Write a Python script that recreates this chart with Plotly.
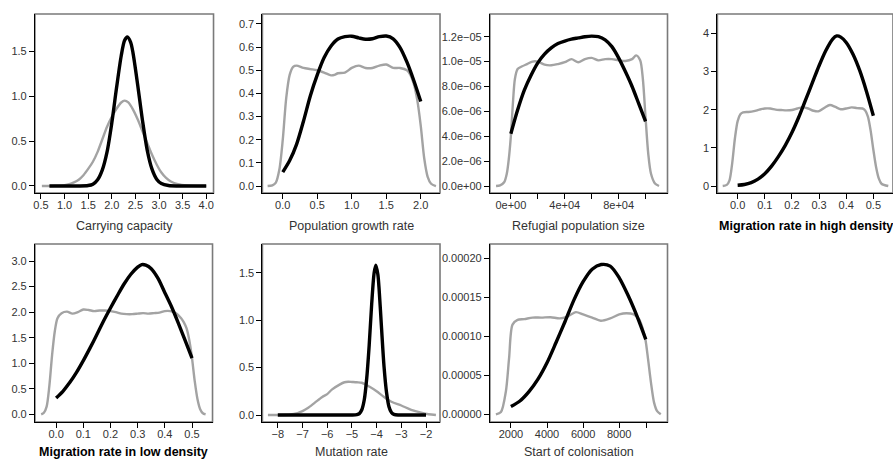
import plotly.graph_objects as go

# ---- Carrying capacity ----
cc_prior_x = [0.52, 0.8, 1.0, 1.1, 1.2, 1.3, 1.4, 1.5, 1.6, 1.7, 1.8, 1.9, 2.0, 2.1, 2.2, 2.27,
              2.35, 2.45, 2.55, 2.65, 2.75, 2.85, 2.95, 3.05, 3.15, 3.25, 3.4, 3.6, 3.8, 4.0]
cc_prior_y = [0.0, 0.003, 0.01, 0.02, 0.04, 0.07, 0.12, 0.19, 0.27, 0.38, 0.52, 0.66, 0.77, 0.86,
              0.93, 0.95, 0.93, 0.85, 0.74, 0.61, 0.48, 0.35, 0.24, 0.15, 0.09, 0.05, 0.02, 0.005, 0.0, 0.0]
cc_post_x = [0.68, 1.0, 1.3, 1.5, 1.6, 1.7, 1.8, 1.9, 2.0, 2.1, 2.2, 2.27, 2.33, 2.4, 2.45, 2.55,
             2.65, 2.75, 2.85, 2.95, 3.05, 3.2, 3.4, 3.7, 4.0]
cc_post_y = [0.0, 0.0, 0.0, 0.005, 0.02, 0.07, 0.18, 0.38, 0.70, 1.09, 1.45, 1.62, 1.66, 1.60, 1.48,
             1.12, 0.73, 0.40, 0.19, 0.076, 0.027, 0.005, 0.0, 0.0, 0.0]

# ---- Population growth rate ----
pg_prior_x = [-0.22, -0.15, -0.1, -0.05, 0.0, 0.05, 0.1, 0.15, 0.2, 0.3, 0.4, 0.5, 0.6, 0.7, 0.75,
              0.8, 0.9, 1.0, 1.1, 1.2, 1.3, 1.4, 1.5, 1.6, 1.7, 1.8, 1.85, 1.9, 1.95, 2.0, 2.05,
              2.1, 2.15, 2.22]
pg_prior_y = [0.0, 0.003, 0.015, 0.07, 0.2, 0.38, 0.48, 0.515, 0.52, 0.51, 0.505, 0.50, 0.49, 0.478,
              0.48, 0.487, 0.49, 0.51, 0.52, 0.51, 0.51, 0.52, 0.525, 0.51, 0.51, 0.50, 0.48, 0.44,
              0.37, 0.26, 0.12, 0.04, 0.01, 0.0]
pg_post_x = [0.0, 0.1, 0.2, 0.3, 0.4, 0.5, 0.6, 0.7, 0.8, 0.9, 1.0, 1.1, 1.2, 1.3, 1.4, 1.5, 1.6,
             1.7, 1.8, 1.9, 2.0]
pg_post_y = [0.06, 0.11, 0.18, 0.28, 0.39, 0.48, 0.555, 0.605, 0.635, 0.645, 0.647, 0.64, 0.634,
             0.636, 0.645, 0.648, 0.636, 0.598, 0.535, 0.455, 0.365]

# ---- Refugial population size ----
rp_prior_x = [-11000, -8000, -5000, -3000, -1500, 0, 1500, 3000, 5000, 8000, 12000, 16000, 20000,
              25000, 30000, 35000, 40000, 45000, 50000, 55000, 60000, 65000, 70000, 75000, 80000,
              85000, 90000, 93000, 96000, 98000, 100000, 102000, 104000, 107000, 110000]
rp_prior_y = [0.0, 0.05e-06, 0.3e-06, 1.0e-06, 2.2e-06, 4.0e-06, 6.6e-06, 8.6e-06, 9.4e-06, 9.6e-06,
              9.8e-06, 1.0e-05, 1.0e-05, 9.75e-06, 9.7e-06, 9.8e-06, 9.95e-06, 1.02e-05, 9.95e-06,
              1.02e-05, 1.03e-05, 1.01e-05, 1.02e-05, 1.02e-05, 1.01e-05, 1.005e-05, 1.02e-05,
              1.05e-05, 1.01e-05, 8.6e-06, 5.5e-06, 2.6e-06, 1.0e-06, 0.2e-06, 0.0]
rp_post_x = [0, 5000, 10000, 15000, 20000, 25000, 30000, 35000, 40000, 45000, 50000, 55000, 60000,
             65000, 70000, 75000, 80000, 85000, 90000, 95000, 100000]
rp_post_y = [4.2e-06, 6.1e-06, 7.7e-06, 8.9e-06, 9.9e-06, 1.06e-05, 1.11e-05, 1.145e-05, 1.165e-05,
             1.18e-05, 1.19e-05, 1.2e-05, 1.205e-05, 1.2e-05, 1.175e-05, 1.12e-05, 1.03e-05,
             9.2e-06, 8.0e-06, 6.6e-06, 5.2e-06]

# ---- Migration rate in high density ----
mh_prior_x = [-0.055, -0.04, -0.03, -0.02, -0.01, 0.0, 0.01, 0.02, 0.04, 0.06, 0.08, 0.1, 0.12, 0.14,
              0.16, 0.18, 0.2, 0.22, 0.24, 0.26, 0.28, 0.3, 0.32, 0.34, 0.36, 0.38, 0.4, 0.42, 0.44,
              0.46, 0.47, 0.48, 0.49, 0.5, 0.51, 0.52, 0.53, 0.555]
mh_prior_y = [0.0, 0.03, 0.15, 0.6, 1.25, 1.7, 1.88, 1.93, 1.94, 1.96, 2.0, 2.03, 2.03, 2.0, 1.99,
              1.98, 1.99, 2.03, 2.06, 2.03, 1.97, 1.96, 2.05, 2.12, 2.07, 2.01, 2.03, 2.06, 2.04,
              2.03, 1.98, 1.82, 1.45, 0.95, 0.5, 0.2, 0.06, 0.0]
mh_post_x = [0.0, 0.025, 0.05, 0.075, 0.1, 0.125, 0.15, 0.175, 0.2, 0.225, 0.25, 0.275, 0.3, 0.325,
             0.35, 0.365, 0.38, 0.4, 0.425, 0.45, 0.475, 0.5]
mh_post_y = [0.02, 0.04, 0.09, 0.18, 0.32, 0.52, 0.77, 1.06, 1.4, 1.8, 2.25, 2.7, 3.15, 3.55, 3.85,
             3.93, 3.9, 3.76, 3.45, 3.02, 2.47, 1.84]

# ---- Migration rate in low density ----
ml_prior_x = [-0.055, -0.045, -0.035, -0.025, -0.015, -0.005, 0.005, 0.02, 0.04, 0.06, 0.08, 0.1,
              0.12, 0.14, 0.16, 0.18, 0.2, 0.22, 0.24, 0.26, 0.28, 0.3, 0.32, 0.34, 0.36, 0.38, 0.4,
              0.42, 0.44, 0.46, 0.47, 0.48, 0.49, 0.5, 0.51, 0.52, 0.53, 0.54, 0.55]
ml_prior_y = [0.0, 0.03, 0.15, 0.55, 1.15, 1.62, 1.88, 1.98, 2.01, 1.97, 2.0, 2.05, 2.04, 2.02, 2.03,
              2.03, 2.02, 2.0, 1.97, 1.96, 1.96, 1.97, 1.98, 1.97, 1.98, 1.99, 2.02, 2.02, 1.98,
              1.88, 1.8, 1.68, 1.45, 1.1, 0.65, 0.3, 0.1, 0.02, 0.0]
ml_post_x = [0.0, 0.025, 0.05, 0.075, 0.1, 0.125, 0.15, 0.175, 0.2, 0.225, 0.25, 0.275, 0.3, 0.315,
             0.33, 0.35, 0.375, 0.4, 0.425, 0.45, 0.475, 0.5]
ml_post_y = [0.32, 0.45, 0.62, 0.82, 1.05, 1.3, 1.56, 1.83, 2.08, 2.32, 2.55, 2.74, 2.88, 2.93, 2.92,
             2.85, 2.66, 2.38, 2.1, 1.78, 1.44, 1.1]

# ---- Mutation rate ----
mr_prior_x = [-8.4, -8.0, -7.5, -7.2, -7.0, -6.8, -6.5, -6.2, -6.0, -5.8, -5.5, -5.3, -5.15, -5.0,
              -4.8, -4.6, -4.3, -4.0, -3.7, -3.4, -3.0, -2.6, -2.2, -1.9, -1.6]
mr_prior_y = [0.0, 0.0, 0.005, 0.02, 0.04, 0.07, 0.13, 0.19, 0.22, 0.27, 0.32, 0.345, 0.35, 0.348,
              0.345, 0.34, 0.3, 0.25, 0.19, 0.14, 0.1, 0.055, 0.025, 0.008, 0.0]
mr_post_x = [-8.0, -6.0, -5.0, -4.8, -4.7, -4.6, -4.5, -4.4, -4.3, -4.2, -4.1, -4.03, -3.95, -3.9,
             -3.8, -3.7, -3.6, -3.5, -3.4, -3.3, -3.1, -2.5, -2.0]
mr_post_y = [0.0, 0.0, 0.0, 0.004, 0.015, 0.055, 0.16, 0.39, 0.74, 1.17, 1.5, 1.58, 1.48, 1.33,
             0.91, 0.51, 0.24, 0.087, 0.026, 0.006, 0.0, 0.0, 0.0]

# ---- Start of colonisation ----
sc_prior_x = [1170, 1450, 1720, 1900, 2090, 2370, 2740, 3200, 3700, 4200, 4700, 5100, 5600, 6000,
              6500, 6980, 7500, 8000, 8400, 8800, 9100, 9300, 9450, 9600, 9750, 9930, 10100, 10300]
sc_prior_y = [0.0, 0.3e-05, 2.9e-05, 7.2e-05, 11.5e-05, 12.1e-05, 12.2e-05, 12.4e-05, 12.4e-05,
              12.45e-05, 12.3e-05, 12.5e-05, 13.1e-05, 12.8e-05, 12.4e-05, 12.0e-05, 12.3e-05,
              12.8e-05, 12.95e-05, 12.8e-05, 12.2e-05, 11.0e-05, 9.6e-05, 7.0e-05, 4.2e-05,
              1.5e-05, 0.4e-05, 0.0]
sc_post_x = [2000, 2500, 3000, 3500, 4000, 4500, 5000, 5500, 6000, 6500, 7000, 7500, 8000, 8500,
             9000, 9470]
sc_post_y = [1.0e-05, 1.7e-05, 2.9e-05, 4.5e-05, 6.6e-05, 9.2e-05, 11.9e-05, 14.7e-05, 17.0e-05,
             18.6e-05, 19.2e-05, 19.0e-05, 17.5e-05, 15.2e-05, 12.5e-05, 9.6e-05]

# ---- axis ticks and labels ----
cc_xticks = [0.5, 1.0, 1.5, 2.0, 2.5, 3.0, 3.5, 4.0]
cc_yticks = [0.0, 0.5, 1.0, 1.5]
pg_xticks = [0.0, 0.5, 1.0, 1.5, 2.0]
pg_yticks = [0.0, 0.1, 0.2, 0.3, 0.4, 0.5, 0.6, 0.7]
rp_xticks = [0, 20000, 40000, 60000, 80000, 100000]
rp_xlabels = ["0e+00", "", "4e+04", "", "8e+04", ""]
rp_yticks = [0.0, 2.0e-06, 4.0e-06, 6.0e-06, 8.0e-06, 1.0e-05, 1.2e-05]
rp_ylabels = ["0.0e+00", "2.0e\u221206", "4.0e\u221206", "6.0e\u221206", "8.0e\u221206",
              "1.0e\u221205", "1.2e\u221205"]
mh_xticks = [0.0, 0.1, 0.2, 0.3, 0.4, 0.5]
mh_yticks = [0, 1, 2, 3, 4]
ml_xticks = [0.0, 0.1, 0.2, 0.3, 0.4, 0.5]
ml_yticks = [0.0, 0.5, 1.0, 1.5, 2.0, 2.5, 3.0]
mr_xticks = [-8, -7, -6, -5, -4, -3, -2]
mr_yticks = [0.0, 0.5, 1.0, 1.5]
sc_xticks = [2000, 4000, 6000, 8000, 9500]
sc_xlabels = ["2000", "4000", "6000", "8000", ""]
sc_yticks = [0.0, 0.00005, 0.0001, 0.00015, 0.0002]

W, H = 893, 459
FONT = "Liberation Sans, Arial, Helvetica, sans-serif"
PRIOR_COLOR = "#a3a3a3"
POST_COLOR = "#000000"
TEXT_COLOR = "#333333"

panels = [
    dict(title="Carrying capacity", bold=False, box=(33, 212, 14, 193),
         xr=[0.373, 4.154], yr=[-0.078, 1.915],
         px=cc_prior_x, py=cc_prior_y, qx=cc_post_x, qy=cc_post_y,
         xt=cc_xticks, xl=None, xf=".1f", yt=cc_yticks, yl=None, yf=".1f"),
    dict(title="Population growth rate", bold=False, box=(261, 439, 14, 193),
         xr=[-0.295, 2.279], yr=[-0.030, 0.743],
         px=pg_prior_x, py=pg_prior_y, qx=pg_post_x, qy=pg_post_y,
         xt=pg_xticks, xl=None, xf=".1f", yt=pg_yticks, yl=None, yf=".1f"),
    dict(title="Refugial population size", bold=False, box=(489, 667, 14, 193),
         xr=[-15556, 116296], yr=[-5.63e-07, 1.3825e-05],
         px=rp_prior_x, py=rp_prior_y, qx=rp_post_x, qy=rp_post_y,
         xt=rp_xticks, xl=rp_xlabels, xf=None, yt=rp_yticks, yl=rp_ylabels, yf=None),
    dict(title="Migration rate in high density", bold=True, box=(717, 893, 14, 193),
         xr=[-0.0746, 0.5724], yr=[-0.183, 4.505],
         px=mh_prior_x, py=mh_prior_y, qx=mh_post_x, qy=mh_post_y,
         xt=mh_xticks, xl=None, xf=".1f", yt=mh_yticks, yl=None, yf="d"),
    dict(title="Migration rate in low density", bold=True, box=(33, 211, 244, 422),
         xr=[-0.078, 0.5755], yr=[-0.151, 3.333],
         px=ml_prior_x, py=ml_prior_y, qx=ml_post_x, qy=ml_post_y,
         xt=ml_xticks, xl=None, xf=".1f", yt=ml_yticks, yl=None, yf=".1f"),
    dict(title="Mutation rate", bold=False, box=(261, 439, 244, 422),
         xr=[-8.623, -1.434], yr=[-0.0738, 1.8025],
         px=mr_prior_x, py=mr_prior_y, qx=mr_post_x, qy=mr_post_y,
         xt=mr_xticks, xl=None, xf="d", yt=mr_yticks, yl=None, yf=".1f"),
    dict(title="Start of colonisation", bold=False, box=(489, 667, 244, 422),
         xr=[837.7, 10673], yr=[-9.87e-06, 2.1833e-04],
         px=sc_prior_x, py=sc_prior_y, qx=sc_post_x, qy=sc_post_y,
         xt=sc_xticks, xl=sc_xlabels, xf=None, yt=sc_yticks, yl=None, yf=".5f"),
]

fig = go.Figure()
layout = {}
annotations = []
shapes = []

for i, p in enumerate(panels, start=1):
    sfx = "" if i == 1 else str(i)
    xa, ya = "x" + sfx, "y" + sfx
    left, right, top, bottom = p["box"]

    fig.add_trace(go.Scatter(
        x=p["px"], y=p["py"], mode="lines", xaxis=xa, yaxis=ya, hoverinfo="skip",
        line=dict(color=PRIOR_COLOR, width=2.4, shape="spline", smoothing=0.8)))
    fig.add_trace(go.Scatter(
        x=p["qx"], y=p["qy"], mode="lines", xaxis=xa, yaxis=ya, hoverinfo="skip",
        line=dict(color=POST_COLOR, width=3.4, shape="spline", smoothing=0.8)))

    common = dict(showgrid=False, zeroline=False, showline=True, linecolor="#000000",
                  linewidth=1, ticks="outside", ticklen=5, tickwidth=1, tickcolor="#000000",
                  tickfont=dict(family=FONT, size=11, color=TEXT_COLOR), fixedrange=True)
    xaxis = dict(common, domain=[left / W, right / W], range=p["xr"], anchor=ya,
                 tickmode="array", tickvals=p["xt"], ticklabelstandoff=-3)
    if p["xl"] is not None:
        xaxis["ticktext"] = p["xl"]
    else:
        xaxis["tickformat"] = p["xf"]
    yaxis = dict(common, domain=[1 - bottom / H, 1 - top / H], range=p["yr"], anchor=xa,
                 tickmode="array", tickvals=p["yt"])
    if p["yl"] is not None:
        yaxis["ticktext"] = p["yl"]
    else:
        yaxis["tickformat"] = p["yf"]
    layout["xaxis" + sfx] = xaxis
    layout["yaxis" + sfx] = yaxis

    # plot frame
    shapes.append(dict(type="rect", xref=xa + " domain", yref=ya + " domain",
                       x0=0, x1=1, y0=0, y1=1, layer="below",
                       line=dict(color="#7a7a7a", width=1.6)))

    title_y = 226 if bottom < 300 else 452
    text = "<b>%s</b>" % p["title"] if p["bold"] else p["title"]
    annotations.append(dict(
        text=text, xref="paper", yref="paper",
        x=((left + right) / 2) / W if i != 4 else ((717 + 895) / 2) / W,
        y=1 - title_y / H, xanchor="center", yanchor="middle", showarrow=False,
        font=dict(family=FONT, size=12.5, color="#000000" if p["bold"] else TEXT_COLOR)))

fig.update_layout(
    width=W, height=H, margin=dict(l=0, r=0, t=0, b=0),
    paper_bgcolor="white", plot_bgcolor="white", showlegend=False,
    annotations=annotations, shapes=shapes, **layout)

fig.write_html("out.html", config={"displayModeBar": False})
